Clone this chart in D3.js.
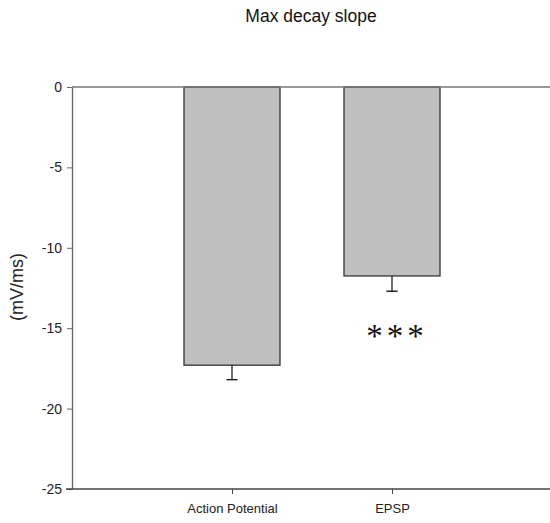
<!DOCTYPE html>
<html>
<head>
<meta charset="utf-8">
<script src="https://cdn.jsdelivr.net/npm/d3@7"></script>
<style>
  body { margin: 0; background: #fff; }
  svg { display: block; }
</style>
</head>
<body>
<div id="chart"></div>
<script>
var categories = ['Action Potential', 'EPSP']
var means = [-17.3, -11.75]
var errors = [0.9, 0.95]
var signif = ['', '***']
var yTicks = [0, -5, -10, -15, -20, -25]

var w = 550
var h = 523
var mLeft = 72
var mRight = 550
var mTop = 87
var mBottom = 489

var svg = d3.select('#chart').append('svg')
  .attr('width', w)
  .attr('height', h)

var x = d3.scalePoint().domain(categories).range([mLeft, mRight + 2]).padding(1)
var y = d3.scaleLinear().domain([0, -25]).range([mTop, mBottom])
var barW = x.step() * 0.6

// title
svg.append('text')
  .attr('x', 311)
  .attr('y', 22)
  .attr('text-anchor', 'middle')
  .style('font-family', 'Liberation Sans, Arial, sans-serif')
  .style('font-size', '17.5px')
  .attr('fill', '#111')
  .text('Max decay slope')

// bars
svg.selectAll('rect.bar').data(categories).enter().append('rect')
  .attr('class', 'bar')
  .attr('x', function (d) { return x(d) - barW / 2 })
  .attr('y', y(0))
  .attr('width', barW)
  .attr('height', function (d, i) { return y(means[i]) - y(0) })
  .attr('fill', '#c0c0c0')
  .attr('stroke', '#333')
  .attr('stroke-width', 1.3)

// error bars (downward only)
categories.forEach(function (c, i) {
  var cx = x(c)
  svg.append('line')
    .attr('x1', cx).attr('x2', cx)
    .attr('y1', y(means[i])).attr('y2', y(means[i] - errors[i]))
    .attr('stroke', '#222').attr('stroke-width', 1.3)
  svg.append('line')
    .attr('x1', cx - 5.5).attr('x2', cx + 5.5)
    .attr('y1', y(means[i] - errors[i])).attr('y2', y(means[i] - errors[i]))
    .attr('stroke', '#222').attr('stroke-width', 1.5)
  if (signif[i]) {
    svg.append('text')
      .attr('x', cx + 5)
      .attr('y', y(means[i] - errors[i]) + 56)
      .attr('text-anchor', 'middle')
      .style('font-family', 'Liberation Serif, Times New Roman, serif')
      .style('font-size', '33px')
      .style('letter-spacing', '4px')
      .attr('fill', '#111')
      .text(signif[i])
  }
})

// zero line
svg.append('line')
  .attr('x1', mLeft).attr('x2', mRight)
  .attr('y1', y(0)).attr('y2', y(0))
  .attr('stroke', '#777').attr('stroke-width', 1.5)

// y axis
var yAxis = svg.append('g')
  .attr('transform', 'translate(' + mLeft + ',0)')
  .call(d3.axisLeft(y).tickValues(yTicks).tickFormat(function (d) { return String(d) })
    .tickSize(5).tickPadding(5).tickSizeOuter(0))
yAxis.select('.domain').attr('stroke', '#666').attr('stroke-width', 1.3)
yAxis.selectAll('.tick line').attr('stroke', '#666')
yAxis.selectAll('.tick text')
  .style('font-family', 'Liberation Sans, Arial, sans-serif')
  .style('font-size', '14px')
  .attr('fill', '#222')

// x axis
var xAxis = svg.append('g')
  .attr('transform', 'translate(0,' + mBottom + ')')
  .call(d3.axisBottom(x).tickSize(5).tickPadding(10).tickSizeOuter(0))
xAxis.select('.domain').attr('d', 'M' + (mLeft - 6) + ',0H' + mRight)
  .attr('stroke', '#444').attr('stroke-width', 1.5)
xAxis.selectAll('.tick line').attr('stroke', '#444')
xAxis.selectAll('.tick text')
  .style('font-family', 'Liberation Sans, Arial, sans-serif')
  .style('font-size', '13px')
  .attr('fill', '#222')

// y label
svg.append('text')
  .attr('transform', 'translate(23,287) rotate(-90)')
  .attr('text-anchor', 'middle')
  .style('font-family', 'Liberation Sans, Arial, sans-serif')
  .style('font-size', '18px')
  .attr('fill', '#222')
  .text('(mV/ms)')
</script>
</body>
</html>
